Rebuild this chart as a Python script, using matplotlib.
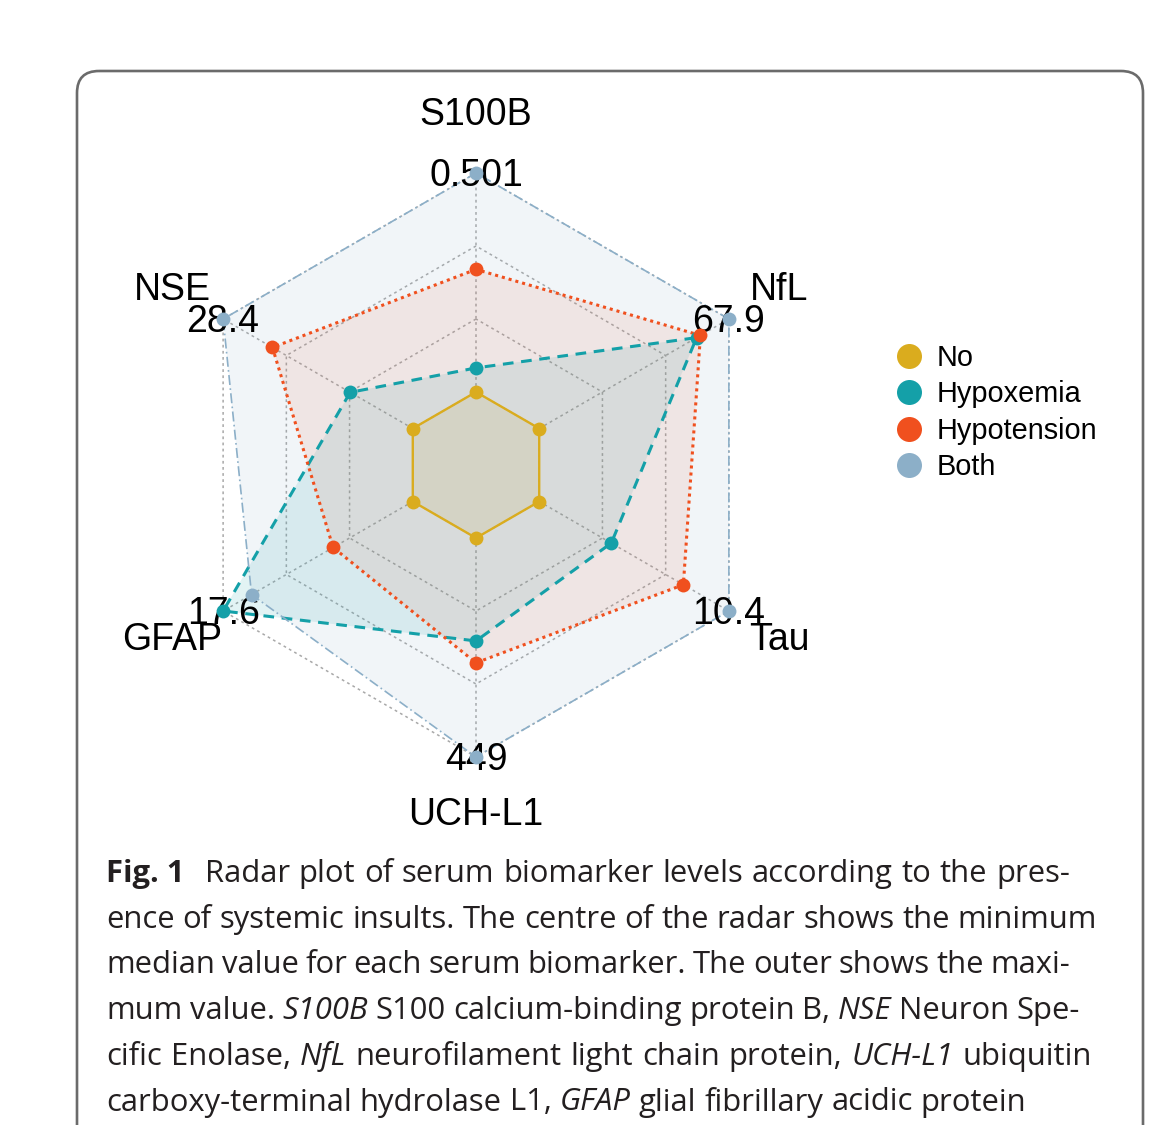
import matplotlib.pyplot as plt
import numpy as np
from matplotlib.lines import Line2D
from matplotlib.patches import FancyBboxPatch

# radar axes, counter-clockwise from the top
biomarkers = ['S100B', 'NSE', 'GFAP', 'UCH-L1', 'Tau', 'NfL']
max_labels = ['0.501', '28.4', '17.6', '449', '10.4', '67.9']

groups = ['No', 'Hypoxemia', 'Hypotension', 'Both']
# median values rescaled per biomarker: 0 = minimum median, 1 = maximum median
no_vals = [0.0, 0.0, 0.0, 0.0, 0.0, 0.0]
hypoxemia_vals = [0.11, 0.33, 1.0, 0.47, 0.38, 0.83]
hypotension_vals = [0.56, 0.74, 0.42, 0.57, 0.76, 0.85]
both_vals = [1.0, 1.0, 0.85, 1.0, 1.0, 1.0]

colors = ['#DAAC1E', '#14A0A8', '#F0501E', '#8CAFC8']
styles = ['-', (0, (3.5, 2.5)), (0, (1, 1.3)), (0, (6, 2, 1, 2))]
widths = [1.7, 2.2, 2.2, 1.2]

W, H = 1170, 1125
fig = plt.figure(figsize=(W / 100, H / 100), dpi=100)

# overlay in pixel units for the frame and the caption
ov = fig.add_axes([0, 0, 1, 1])
ov.set_xlim(0, W)
ov.set_ylim(H, 0)
ov.axis('off')
ov.add_patch(FancyBboxPatch((77, 71), 1066, 1200, boxstyle='round,pad=0,rounding_size=22',
                            fc='none', ec='#6b6b6b', lw=1.9, clip_on=True))

# radar axes: centre at (476, 465) px, outer radius 292 px
seg = 3
cx, cy, R, L = 476, 465, 292, 1.4
side = 2 * L * R
ax = fig.add_axes([(cx - side / 2) / W, (H - cy - side / 2) / H, side / W, side / H])
ax.set_xlim(-L, L)
ax.set_ylim(-L, L)
ax.axis('off')
ax.patch.set_alpha(0)

theta = np.deg2rad(90 + 60 * np.arange(len(biomarkers)))
ct, st = np.cos(theta), np.sin(theta)


def to_xy(vals):
    r = (1 + seg * np.asarray(vals)) / (seg + 1)
    x, y = r * ct, r * st
    return np.append(x, x[0]), np.append(y, y[0]), x, y


# grid rings and spokes
grid_kw = dict(color='#a8a8a8', lw=1.1, ls=(0, (1.8, 2.2)), zorder=1)
for k in range(1, seg + 2):
    r = k / (seg + 1)
    ax.plot(np.append(r * ct, r * ct[0]), np.append(r * st, r * st[0]), **grid_kw)
for c, s in zip(ct, st):
    ax.plot([c / (seg + 1), c], [s / (seg + 1), s], **grid_kw)

series = [no_vals, hypoxemia_vals, hypotension_vals, both_vals]
alphas = [0.14, 0.12, 0.1, 0.12]
for vals, col, ls, lw, a in zip(series, colors, styles, widths, alphas):
    xc, yc, x, y = to_xy(vals)
    ax.fill(xc, yc, color=col, alpha=a, lw=0, zorder=2)
    ax.plot(xc, yc, color=col, ls=ls, lw=lw, zorder=3)
    ax.plot(x, y, 'o', color=col, ms=10, mec='none', zorder=5)

lab_font = 'Liberation Sans'
for name, lab, c, s in zip(biomarkers, max_labels, ct, st):
    ax.text(1.2 * c, 1.2 * s, name, ha='center', va='center', fontsize=27, family=lab_font, zorder=4)
    ax.text(c, s - 0.01, lab, ha='center', va='center', fontsize=27, family=lab_font, zorder=4)

handles = [Line2D([], [], ls='none', marker='o', ms=18, color=c, mec='none') for c in colors]
fig.legend(handles, groups, loc='upper left', bbox_to_anchor=(895 / W, 1 - 344 / H),
           frameon=False, prop={'family': lab_font, 'size': 20.8},
           handlelength=1.0, handletextpad=0.45, labelspacing=0.29,
           borderpad=0, borderaxespad=0)

# caption, justified line by line
cap_font = 'Open Sans'
caption = [
    [('Fig. 1', 'bold'), ('Radar plot of serum biomarker levels according to the pres-', 'normal')],
    [('ence of systemic insults. The centre of the radar shows the minimum', 'normal')],
    [('median value for each serum biomarker. The outer shows the maxi-', 'normal')],
    [('mum value.', 'normal'), ('S100B', 'italic'), ('S100 calcium-binding protein B,', 'normal'),
     ('NSE', 'italic'), ('Neuron Spe-', 'normal')],
    [('cific Enolase,', 'normal'), ('NfL', 'italic'), ('neurofilament light chain protein,', 'normal'),
     ('UCH-L1', 'italic'), ('ubiquitin', 'normal')],
    [('carboxy-terminal hydrolase L1,', 'normal'), ('GFAP', 'italic'),
     ('glial fibrillary acidic protein', 'normal')],
]
right_edges = [1070, 1097, 1070, 1080, 1092, None]
left = 106
base0, pitch = 882, 45.7

renderer = fig.canvas.get_renderer()


def tokens(line):
    out = []
    for txt, sty in line:
        if sty == 'bold':
            out.append((txt, sty))
        else:
            out += [(w, sty) for w in txt.split(' ')]
    return out


def text_width(s, sty, size):
    t = ov.text(0, 0, s, fontsize=size, family=cap_font,
                weight='bold' if sty == 'bold' else 'normal',
                style='italic' if sty == 'italic' else 'normal')
    w = t.get_window_extent(renderer).width
    t.remove()
    return w


# fit the font size on the last (unjustified) line
last = tokens(caption[-1])
space20 = text_width('a a', 'normal', 20) - text_width('aa', 'normal', 20)
w20 = sum(text_width(s, sty, 20) for s, sty in last) + space20 * (len(last) - 1)
cap_size = 20 * (1025 - left) / w20
space = space20 * cap_size / 20

for i, line in enumerate(caption):
    toks = tokens(line)
    ws = [text_width(s, sty, cap_size) for s, sty in toks]
    weights = [1.0] * (len(toks) - 1)
    if i == 0:
        weights[0] = 2.3
    if right_edges[i] is None:
        unit = space
    else:
        unit = (right_edges[i] - left - sum(ws)) / sum(weights)
    x = left
    for j, ((s, sty), w) in enumerate(zip(toks, ws)):
        ov.text(x, base0 + i * pitch, s, fontsize=cap_size, family=cap_font, color='#231F20',
                weight='bold' if sty == 'bold' else 'normal',
                style='italic' if sty == 'italic' else 'normal', va='baseline', ha='left')
        if j < len(weights):
            x += w + unit * weights[j]

fig.savefig('out.png', dpi=100)
